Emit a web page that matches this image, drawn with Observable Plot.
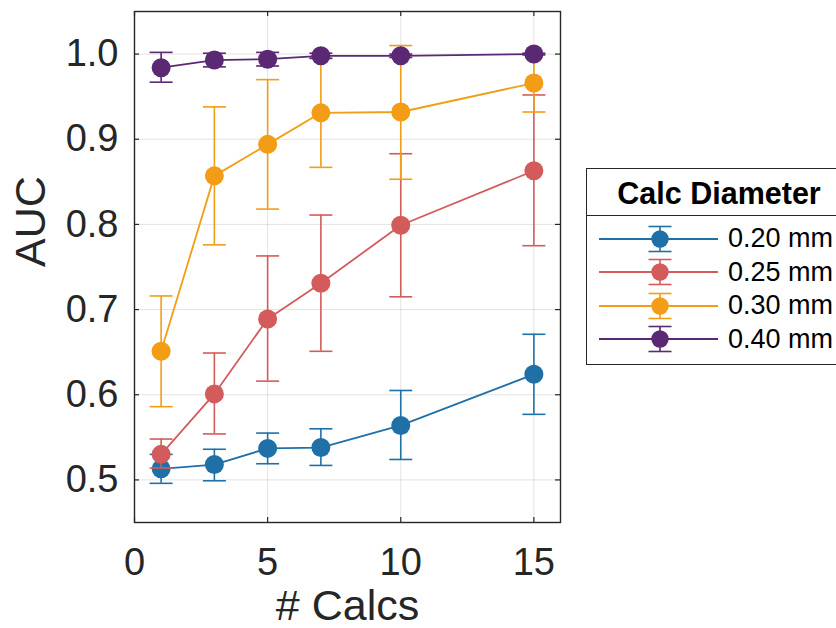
<!DOCTYPE html>
<html>
<head>
<meta charset="utf-8">
<script src="https://cdn.jsdelivr.net/npm/d3@7"></script>
<script src="https://cdn.jsdelivr.net/npm/@observablehq/plot@0.6"></script>
<style>
  html, body { margin: 0; padding: 0; background: #fff; }
  #wrap { position: relative; width: 836px; height: 628px; overflow: hidden; font-family: "Liberation Sans", Arial, Helvetica, sans-serif; }
  #legend { position: absolute; left: 586px; top: 168px; width: 270px; background: #fff; border: 1.4px solid #262626; }
  #legend .hdr { height: 46px; line-height: 48px; text-align: center; font-weight: bold; font-size: 30.5px; color: #000; border-bottom: 1.4px solid #262626; width: 264px; }
  #legend .row { height: 33.5px; display: flex; align-items: center; }
  #legend .lab { font-size: 27px; color: #000; margin-left: 10px; }
</style>
</head>
<body>
<div id="wrap"></div>
<script>
// ---- data ----
const calcs = [1, 3, 5, 7, 10, 15];
const diameters = ["0.20 mm", "0.25 mm", "0.30 mm", "0.40 mm"];
const colors = ["#2070a8", "#d45b5b", "#f39c16", "#5b2873"];

const auc020 = [0.513, 0.518, 0.537, 0.538, 0.564, 0.624];
const lo020  = [0.496, 0.499, 0.519, 0.517, 0.524, 0.577];
const hi020  = [0.530, 0.536, 0.555, 0.560, 0.605, 0.671];

const auc025 = [0.530, 0.601, 0.689, 0.731, 0.799, 0.863];
const lo025  = [0.514, 0.554, 0.616, 0.651, 0.715, 0.775];
const hi025  = [0.548, 0.649, 0.763, 0.811, 0.883, 0.952];

const auc030 = [0.651, 0.857, 0.894, 0.931, 0.932, 0.966];
const lo030  = [0.586, 0.776, 0.818, 0.867, 0.853, 0.932];
const hi030  = [0.716, 0.938, 0.970, 0.995, 1.010, 1.000];

const auc040 = [0.984, 0.993, 0.994, 0.998, 0.998, 1.000];
const lo040  = [0.967, 0.985, 0.986, 0.995, 0.996, 0.999];
const hi040  = [1.002, 1.001, 1.002, 1.001, 1.000, 1.001];

const xTicks = [0, 5, 10, 15];
const yTicks = [0.5, 0.6, 0.7, 0.8, 0.9, 1.0];
const xLabel = "# Calcs";
const yLabel = "AUC";
const legendTitle = "Calc Diameter";

// ---- build table ----
const seriesValues = [[auc020, lo020, hi020], [auc025, lo025, hi025], [auc030, lo030, hi030], [auc040, lo040, hi040]];
const series = diameters.map((name, i) => ({
  name, color: colors[i],
  rows: calcs.map((c, j) => ({calcs: c, auc: seriesValues[i][0][j], lo: seriesValues[i][1][j], hi: seriesValues[i][2][j]}))
}));

const capSymbol = {
  draw(context, size) {
    const r = Math.sqrt(size / Math.PI);
    context.moveTo(-r, 0);
    context.lineTo(r, 0);
  }
};

const W = 836, H = 628, mL = 134, mR = 276, mT = 11, mB = 106;
const fw = W - mL - mR, fh = H - mT - mB;
const tickLen = 5;
const ink = "#262626";

const marks = [
  Plot.gridX(xTicks, {stroke: ink, strokeOpacity: 0.13, strokeWidth: 1}),
  Plot.gridY(yTicks, {stroke: ink, strokeOpacity: 0.13, strokeWidth: 1}),
  // inward ticks on all four sides
  Plot.tickX(xTicks, {x: d => d, stroke: ink, strokeWidth: 1.2, insetTop: fh - tickLen}),
  Plot.tickX(xTicks, {x: d => d, stroke: ink, strokeWidth: 1.2, insetBottom: fh - tickLen}),
  Plot.tickY(yTicks, {y: d => d, stroke: ink, strokeWidth: 1.2, insetRight: fw - tickLen}),
  Plot.tickY(yTicks, {y: d => d, stroke: ink, strokeWidth: 1.2, insetLeft: fw - tickLen}),
  Plot.axisX(xTicks, {tickSize: 0, tickPadding: 26, fontSize: 38, fill: ink, label: null}),
  Plot.axisY(yTicks, {tickSize: 0, tickPadding: 16, fontSize: 38, fill: ink, tickFormat: d3.format(".1f"), label: null}),
  Plot.text([xLabel], {frameAnchor: "bottom", dy: 84, fontSize: 43, fill: ink, lineAnchor: "middle"}),
  Plot.text([yLabel], {frameAnchor: "left", dx: -103, rotate: -90, fontSize: 43, fill: ink, lineAnchor: "middle"})
];

for (const s of series) {
  const caps = s.rows.flatMap(r => [{calcs: r.calcs, v: r.lo}, {calcs: r.calcs, v: r.hi}]);
  marks.push(
    Plot.ruleX(s.rows, {x: "calcs", y1: "lo", y2: "hi", stroke: s.color, strokeWidth: 1.6}),
    Plot.dot(caps, {x: "calcs", y: "v", symbol: capSymbol, r: 11.5, stroke: s.color, strokeWidth: 1.6, fill: "none"}),
    Plot.line(s.rows, {x: "calcs", y: "auc", stroke: s.color, strokeWidth: 1.8}),
    Plot.dot(s.rows, {x: "calcs", y: "auc", r: 9.5, fill: s.color, stroke: "none"})
  );
}
marks.push(Plot.frame({stroke: ink, strokeWidth: 1.4}));

const chart = Plot.plot({
  width: W, height: H,
  marginLeft: mL, marginRight: mR, marginTop: mT, marginBottom: mB,
  style: {fontFamily: "'Liberation Sans', Arial, Helvetica, sans-serif", background: "white", color: ink},
  x: {domain: [0, 16]},
  y: {domain: [0.45, 1.05]},
  marks
});

const wrap = document.getElementById("wrap");
wrap.appendChild(chart);

// ---- legend ----
const legend = d3.select(wrap).append("div").attr("id", "legend");
legend.append("div").attr("class", "hdr").text(legendTitle);
const body = legend.append("div").style("padding", "6px 0 8px 0");
series.forEach(s => {
  const row = body.append("div").attr("class", "row");
  const sv = row.append("svg").attr("width", 131).attr("height", 34);
  const cy = 17, cx = 73;
  sv.append("line").attr("x1", 12).attr("x2", 131).attr("y1", cy).attr("y2", cy).attr("stroke", s.color).attr("stroke-width", 1.8);
  sv.append("line").attr("x1", cx).attr("x2", cx).attr("y1", cy - 12.5).attr("y2", cy + 12.5).attr("stroke", s.color).attr("stroke-width", 1.6);
  sv.append("line").attr("x1", cx - 11.5).attr("x2", cx + 11.5).attr("y1", cy - 12.5).attr("y2", cy - 12.5).attr("stroke", s.color).attr("stroke-width", 1.6);
  sv.append("line").attr("x1", cx - 11.5).attr("x2", cx + 11.5).attr("y1", cy + 12.5).attr("y2", cy + 12.5).attr("stroke", s.color).attr("stroke-width", 1.6);
  sv.append("circle").attr("cx", cx).attr("cy", cy).attr("r", 8.7).attr("fill", s.color);
  row.append("span").attr("class", "lab").text(s.name);
});
</script>
</body>
</html>
